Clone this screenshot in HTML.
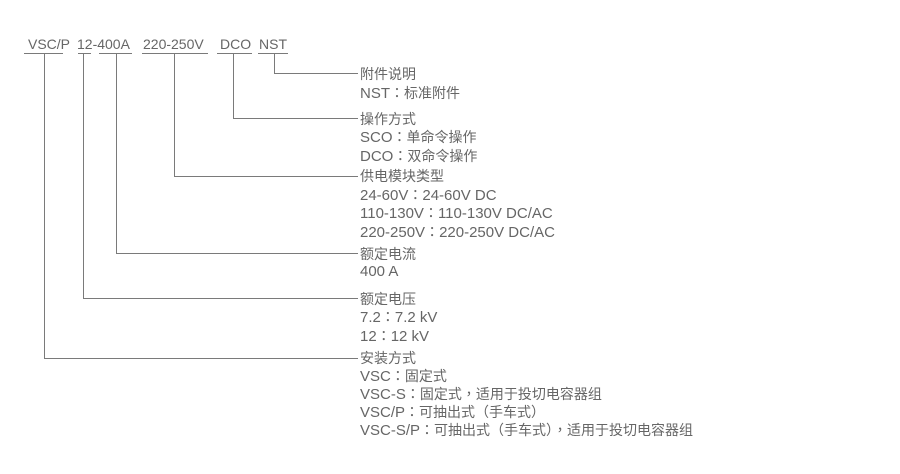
<!DOCTYPE html>
<html><head><meta charset="utf-8"><style>
html,body{margin:0;padding:0;background:#fff;}
body{width:900px;height:474px;position:relative;overflow:hidden;font-family:"Liberation Sans","Noto Sans CJK SC",sans-serif;font-size:14px;color:#666;}
.t{position:absolute;white-space:nowrap;line-height:18px;height:18px;}
.r{font-size:15px;}
.c{font-size:14px;}
.p{font-size:14px;font-family:"Noto Sans CJK TC",sans-serif;}
svg{position:absolute;left:0;top:0;}
</style></head><body>
<svg width="900" height="474">
<g stroke="#7a7a7a" stroke-width="1" fill="none" shape-rendering="crispEdges">
<line x1="24" y1="53.5" x2="63" y2="53.5"/>
<line x1="78" y1="53.5" x2="91" y2="53.5"/>
<line x1="99" y1="53.5" x2="132" y2="53.5"/>
<line x1="142" y1="53.5" x2="208" y2="53.5"/>
<line x1="217" y1="53.5" x2="252" y2="53.5"/>
<line x1="258" y1="53.5" x2="288" y2="53.5"/>
<polyline points="274.5,53.5 274.5,73.5 358,73.5"/>
<polyline points="233.5,53.5 233.5,118.5 358,118.5"/>
<polyline points="174.5,53.5 174.5,176.5 358,176.5"/>
<polyline points="116.5,53.5 116.5,253.5 358,253.5"/>
<polyline points="83.5,53.5 83.5,298.5 358,298.5"/>
<polyline points="44.5,53.5 44.5,358.5 358,358.5"/>
</g>
</svg>
<div class="t" style="left:28px;top:35px;">VSC/P</div>
<div class="t" style="left:77px;top:35px;">12-400A</div>
<div class="t" style="left:143px;top:35px;">220-250V</div>
<div class="t" style="left:220px;top:35px;">DCO</div>
<div class="t" style="left:259px;top:35px;">NST</div>

<div class="t" style="left:360px;top:65px;">附件说明</div>
<div class="t r" style="left:360px;top:84px;">NST<span class="p">：</span><span class="c">标准附件</span></div>

<div class="t" style="left:360px;top:110px;">操作方式</div>
<div class="t r" style="left:360px;top:128px;">SCO<span class="p">：</span><span class="c">单命令操作</span></div>
<div class="t r" style="left:360px;top:147px;">DCO<span class="p">：</span><span class="c">双命令操作</span></div>

<div class="t" style="left:360px;top:167px;">供电模块类型</div>
<div class="t r" style="left:360px;top:186px;">24-60V<span class="p">：</span>24-60V DC</div>
<div class="t r" style="left:360px;top:204px;">110-130V<span class="p">：</span>110-130V DC/AC</div>
<div class="t r" style="left:360px;top:223px;">220-250V<span class="p">：</span>220-250V DC/AC</div>

<div class="t" style="left:360px;top:245px;">额定电流</div>
<div class="t r" style="left:360px;top:263px;">400 A</div>

<div class="t" style="left:360px;top:290px;">额定电压</div>
<div class="t r" style="left:360px;top:308px;">7.2<span class="p">：</span>7.2 kV</div>
<div class="t r" style="left:360px;top:327px;">12<span class="p">：</span>12 kV</div>

<div class="t" style="left:360px;top:349px;">安装方式</div>
<div class="t r" style="left:360px;top:367px;">VSC<span class="p">：</span><span class="c">固定式</span></div>
<div class="t r" style="left:360px;top:385px;">VSC-S<span class="p">：</span><span class="c">固定式</span><span class="p">，</span><span class="c">适用于投切电容器组</span></div>
<div class="t r" style="left:360px;top:403px;">VSC/P<span class="p">：</span><span class="c">可抽出式</span><span class="p">（</span><span class="c">手车式</span><span class="p">）</span></div>
<div class="t r" style="left:360px;top:421px;">VSC-S/P<span class="p">：</span><span class="c">可抽出式</span><span class="p">（</span><span class="c">手车式</span><span class="p">）</span><span class="p">，</span><span class="c">适用于投切电容器组</span></div>
</body></html>
